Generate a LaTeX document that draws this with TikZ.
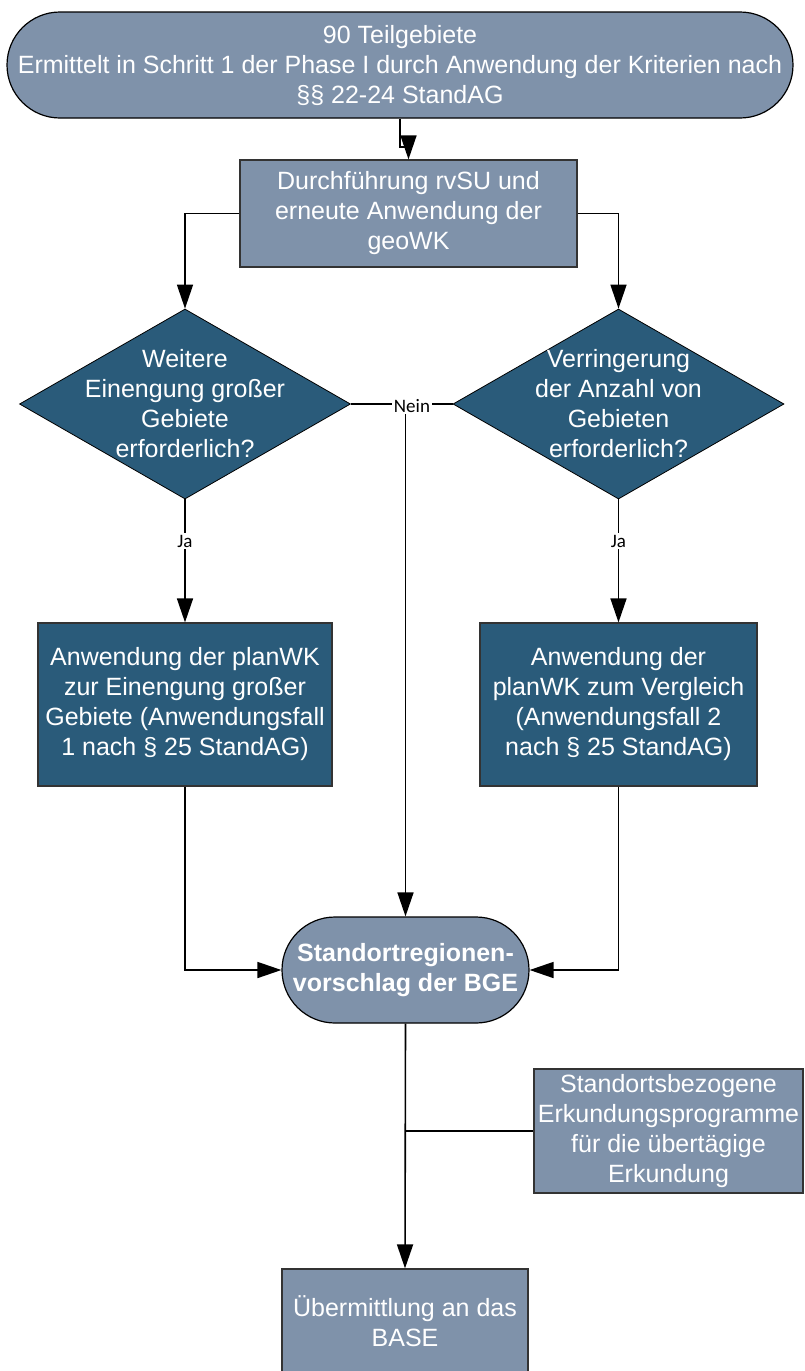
\documentclass[tikz,border=0pt]{standalone}
\usepackage{fontspec}
\setmainfont{Liberation Sans}
\newfontfamily\labelfont{Carlito}
\usetikzlibrary{shapes.geometric}
\usetikzlibrary{arrows.meta}
\definecolor{boxlight}{RGB}{127,146,170}
\definecolor{boxdark}{RGB}{42,91,122}
\definecolor{boxline}{RGB}{51,51,51}

\begin{document}
\begin{tikzpicture}[x=1pt, y=-1pt,
	every node/.style={font=\fontsize{25}{30}\selectfont, text=white, align=center, inner sep=0pt},
	terminal/.style={rectangle, rounded corners=53pt, draw=black, fill=boxlight, line width=1.2pt, minimum height=106pt},
	lightbox/.style={rectangle, draw=boxline, fill=boxlight, line width=1.2pt},
	darkbox/.style={rectangle, draw=boxline, fill=boxdark, line width=1.2pt},
	decision/.style={diamond, aspect=1.74, draw=black, fill=boxdark, line width=0.8pt, inner xsep=0pt, inner ysep=-52pt, minimum width=331pt, minimum height=190pt},
	conn/.style={line width=1.6pt, draw=black},
	arrow/.style={conn, -{Triangle[length=24pt, width=16pt]}},
	answer/.style={font=\labelfont\fontsize{19}{20}\selectfont, text=black, fill=white, inner sep=1.5pt}]
	% page 804 x 1371, 1pt = 1px
	\useasboundingbox (0,0) rectangle (804,1371);
	\clip (0,0) rectangle (804,1371);

	% start
	\node[terminal, minimum width=786pt] (teilgebiete) at (400,65)
		{90 Teilgebiete\\Ermittelt in Schritt 1 der Phase I durch Anwendung der Kriterien nach\\§§ 22-24 StandAG};
	\node[lightbox, minimum width=337pt, minimum height=107pt] (rvsu) at (408.5,213.5)
		{Durchführung rvSU und\\erneute Anwendung der\\geoWK};

	% decisions
	\node[decision] (weitere) at (185,404)
		{Weitere\\Einengung großer\\Gebiete\\erforderlich?};
	\node[decision] (verringerung) at (618.5,404)
		{Verringerung\\der Anzahl von\\Gebieten\\erforderlich?};

	% planWK
	\node[darkbox, minimum width=294pt, minimum height=163pt] (einengung) at (185,704.5)
		{Anwendung der planWK\\zur Einengung großer\\Gebiete (Anwendungsfall\\1 nach § 25 StandAG)};
	\node[darkbox, minimum width=277pt, minimum height=163pt] (vergleich) at (618.5,704.5)
		{Anwendung der\\planWK zum Vergleich\\(Anwendungsfall 2\\nach § 25 StandAG)};

	% result
	\node[terminal, minimum width=247pt, font=\fontsize{25}{30}\selectfont\bfseries] (standort) at (405.5,970)
		{Standortregionen-\\vorschlag der BGE};
	\node[lightbox, minimum width=269pt, minimum height=124pt] (erkundung) at (668.5,1131)
		{Standortsbezogene\\Erkundungsprogramme\\für die übertägige\\Erkundung};
	\node[lightbox, minimum width=246pt, minimum height=104pt] (base) at (405,1321)
		{Übermittlung an das\\BASE};

	% connectors
	\coordinate (knick) at (408.5,147);
	\draw[arrow] (teilgebiete.south) |- (knick) -- (rvsu.north);
	\draw[arrow] (rvsu.west) -| (weitere.north);
	\draw[arrow] (rvsu.east) -| (verringerung.north);
	\draw[conn] (weitere.east) -- (verringerung.west);
	\node[answer] (nein) at (412,406) {Nein};
	\draw[arrow] (nein.south -| standort.north) -- (standort.north);
	\draw[arrow] (weitere.south) -- (einengung.north);
	\node[answer] (jalinks) at (185,541) {Ja};
	\draw[arrow] (verringerung.south) -- (vergleich.north);
	\node[answer] (jarechts) at (618.5,541) {Ja};
	\draw[arrow] (einengung.south) |- (standort.west);
	\draw[arrow] (vergleich.south) |- (standort.east);
	\draw[arrow] (standort.south) -- (base.north);
	\draw[conn] (erkundung.west) -- (erkundung.west -| standort.south);
\end{tikzpicture}
\end{document}
